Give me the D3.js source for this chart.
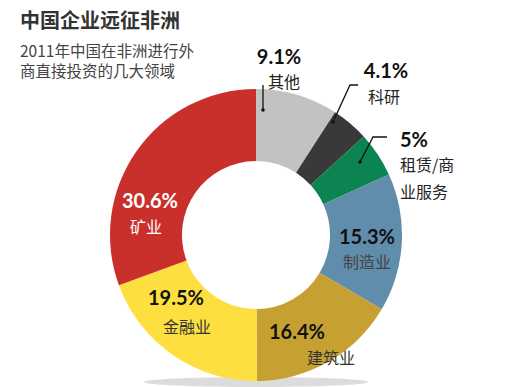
<!DOCTYPE html>
<html>
<head>
<meta charset="utf-8">
<script src="https://cdn.jsdelivr.net/npm/d3@7"></script>
<style>
  body { margin: 0; background: #fff; }
  svg { display: block; font-family: "Noto Sans CJK SC", "Noto Sans", sans-serif; }
</style>
</head>
<body>
<div class="chart"></div>
<script>
// data, clockwise from 12 o'clock
const categories = ['其他', '科研', '租赁/商业服务', '制造业', '建筑业', '金融业', '矿业'];
const values = [9.1, 4.1, 5, 15.3, 16.4, 19.5, 30.6];
const valueLabels = ['9.1%', '4.1%', '5%', '15.3%', '16.4%', '19.5%', '30.6%'];
const colors = ['#c2c2c2', '#393939', '#0c8452', '#5f8dab', '#c6a132', '#fddf3f', '#c9302c'];

const width = 513, height = 387;
const cx = 256, cy = 235, outerR = 146, innerR = 74;

// where the label text sits (pct x, pct baseline, name lines, name baseline)
const labelLayout = [
  { x: 279, y: 64, name: ['其他'], nx: 284, ny: 87.5, pctFill: '#111', nameFill: '#222', lead: [[263, 85], [263, 110]] },
  { x: 386, y: 78, name: ['科研'], nx: 384, ny: 102.5, pctFill: '#111', nameFill: '#222', lead: [[358, 85], [350, 85], [333, 122]] },
  { x: 412, y: 147, name: ['租赁/商', '业服务'], nx: 400, ny: 170.5, pctFill: '#111', nameFill: '#222', anchor: 'start', lead: [[387, 137], [373, 137], [360, 162]] },
  { x: 367, y: 244, name: ['制造业'], nx: 367, ny: 268, pctFill: '#111', nameFill: '#444' },
  { x: 297, y: 339, name: ['建筑业'], nx: 331, ny: 364, pctFill: '#111', nameFill: '#333' },
  { x: 176, y: 305, name: ['金融业'], nx: 187, ny: 333, pctFill: '#111', nameFill: '#333' },
  { x: 150, y: 208, name: ['矿业'], nx: 146, ny: 233, pctFill: '#fff', nameFill: '#fff' }
];

const svg = d3.select('.chart').append('svg')
  .attr('width', width).attr('height', height);

// title
svg.append('text').attr('x', 20).attr('y', 28)
  .attr('font-size', 20).attr('font-weight', 'bold').attr('fill', '#333')
  .text('中国企业远征非洲');
svg.append('text').attr('x', 20).attr('y', 57)
  .attr('font-size', 15.5).attr('fill', '#444')
  .text('2011年中国在非洲进行外');
svg.append('text').attr('x', 20).attr('y', 77)
  .attr('font-size', 15.5).attr('fill', '#444')
  .text('商直接投资的几大领域');

// soft shadow under the ring
svg.append('ellipse')
  .attr('cx', cx).attr('cy', cy + outerR + 1)
  .attr('rx', 112).attr('ry', 5)
  .attr('fill', '#dcdcdc');

const pie = d3.pie().sort(null).value(d => d);
const arc = d3.arc().innerRadius(innerR).outerRadius(outerR);

const g = svg.append('g').attr('transform', 'translate(' + cx + ',' + cy + ')');
g.selectAll('path')
  .data(pie(values))
  .enter().append('path')
  .attr('d', arc)
  .attr('fill', (d, i) => colors[i]);

// leader lines
const line = d3.line();
labelLayout.forEach((l, i) => {
  if (!l.lead) return;
  svg.append('path')
    .attr('d', line(l.lead))
    .attr('fill', 'none').attr('stroke', '#111').attr('stroke-width', 1.3);
  const end = l.lead[l.lead.length - 1];
  svg.append('circle').attr('cx', end[0]).attr('cy', end[1]).attr('r', 1.8).attr('fill', '#111');
});

// labels
labelLayout.forEach((l, i) => {
  const anchor = l.anchor || 'middle';
  svg.append('text')
    .attr('x', anchor === 'start' ? l.nx : l.x).attr('y', l.y)
    .attr('text-anchor', anchor)
    .attr('font-family', 'Lato, "Noto Sans", sans-serif')
    .attr('font-size', 20).attr('font-weight', 'bold')
    .attr('fill', l.pctFill)
    .text(valueLabels[i]);
  l.name.forEach((s, k) => {
    svg.append('text')
      .attr('x', l.nx).attr('y', l.ny + k * 27)
      .attr('text-anchor', anchor)
      .attr('font-size', 16)
      .attr('fill', l.nameFill)
      .text(s);
  });
});
</script>
</body>
</html>
